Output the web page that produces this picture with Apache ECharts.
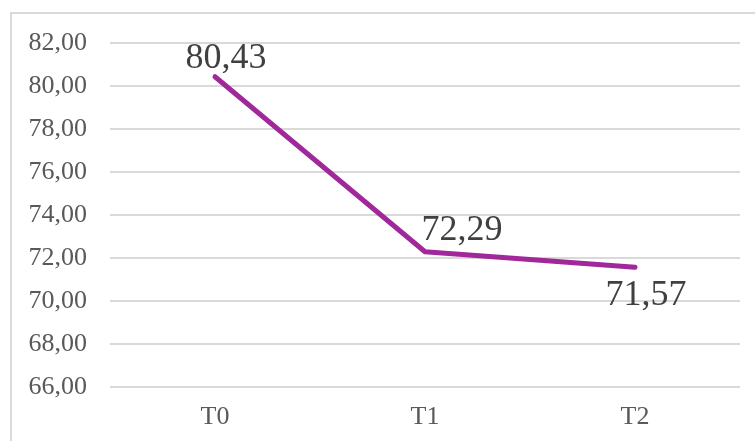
<!DOCTYPE html>
<html>
<head>
<meta charset="utf-8">
<script src="https://cdn.jsdelivr.net/npm/echarts@6/dist/echarts.min.js"></script>
<style>
  html, body { margin: 0; padding: 0; background: #fff; }
  #chart { width: 755px; height: 441px; }
</style>
</head>
<body>
<div id="chart"></div>
<script>
// Mean score per time point
const categories = ['T0', 'T1', 'T2'];
const values = [80.43, 72.29, 71.57];
const yTicks = { min: 66, max: 82, interval: 2 };

// Label placement per point (position, offset in px)
const labelPlacement = [
  { position: 'top', offset: [11, 5] },
  { position: 'top', offset: [37, 2] },
  { position: 'bottom', offset: [11, 5] }
];

const fmt = v => v.toFixed(2).replace('.', ',');

const chart = echarts.init(document.getElementById('chart'), null, { renderer: 'canvas' });

chart.setOption({
  backgroundColor: '#fff',
  animation: false,
  graphic: [{
    type: 'rect',
    silent: true,
    shape: { x: 11, y: 13, width: 800, height: 500 },
    style: { fill: 'none', stroke: '#d9d9d9', lineWidth: 2 }
  }],
  grid: { left: 110, right: 15, top: 43, bottom: 54, containLabel: false },
  xAxis: {
    type: 'category',
    data: categories,
    boundaryGap: true,
    axisLine: { show: false },
    axisTick: { show: false },
    axisLabel: {
      margin: 17,
      fontFamily: 'Liberation Serif',
      fontSize: 26,
      color: '#595959'
    }
  },
  yAxis: {
    type: 'value',
    min: yTicks.min,
    max: yTicks.max,
    interval: yTicks.interval,
    axisLine: { show: false },
    axisTick: { show: false },
    splitLine: { lineStyle: { color: '#d9d9d9', width: 2 } },
    axisLabel: {
      margin: 23,
      fontFamily: 'Liberation Serif',
      fontSize: 26,
      color: '#595959',
      formatter: v => fmt(v)
    }
  },
  series: [{
    type: 'line',
    data: values.map((v, i) => ({
      value: v,
      label: {
        show: true,
        position: labelPlacement[i].position,
        offset: labelPlacement[i].offset
      }
    })),
    symbol: 'circle',
    symbolSize: 2,
    showSymbol: true,
    lineStyle: { color: '#a0289a', width: 5, cap: 'round', join: 'round' },
    itemStyle: { color: 'rgba(0,0,0,0)', borderWidth: 0 },
    label: {
      show: true,
      distance: 4,
      fontFamily: 'Liberation Serif',
      fontSize: 36,
      color: '#404040',
      formatter: p => fmt(p.value)
    }
  }]
});
</script>
</body>
</html>
